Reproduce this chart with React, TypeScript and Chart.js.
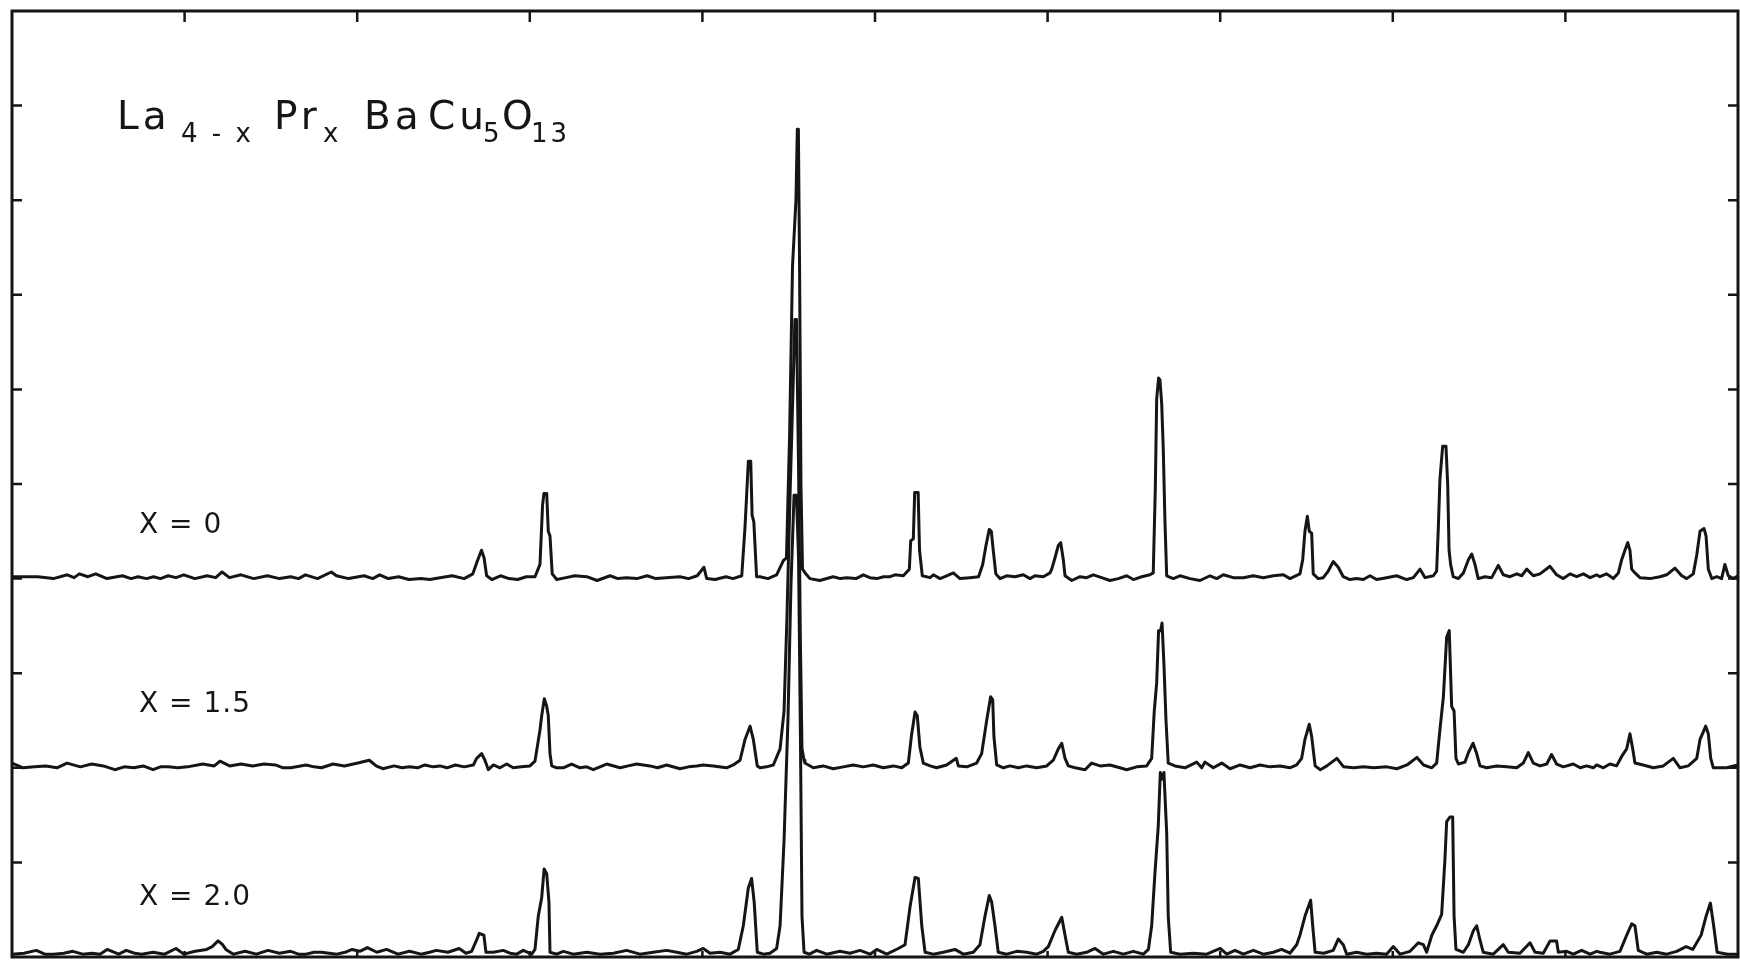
import React, { useEffect, useRef } from 'react';
import { Chart, registerables } from 'chart.js';

Chart.register(...registerables);

// Powder diffraction scans of La(4-x)Pr(x)BaCu5O13.
// Each point: [scan position (0-100 across the frame), intensity above the trace's own baseline].
const TRACE_X0: [number, number][] = [
  [0, 0.02], [1.5, 0.02], [2.4, 0.0], [3.2, 0.04], [3.6, 0.01], [3.9, 0.05], [4.4, 0.02], [4.85, 0.05], [5.5, 0.0],
  [6.4, 0.03], [6.9, 0.0], [7.3, 0.02], [7.8, 0.0], [8.2, 0.02], [8.6, 0.0], [9.05, 0.03], [9.5, 0.01], [9.95, 0.04],
  [10.6, 0.0], [11.3, 0.03], [11.8, 0.01], [12.17, 0.07], [12.6, 0.01], [13.27, 0.04], [14.0, 0.0], [14.8, 0.03],
  [15.5, 0.0], [16.15, 0.02], [16.6, 0.0], [17.0, 0.04], [17.7, 0.0], [18.5, 0.07], [18.8, 0.03], [19.5, 0.0],
  [20.4, 0.03], [20.9, 0.0], [21.3, 0.04], [21.8, 0.0], [22.4, 0.02], [23.0, -0.01], [23.7, 0.0], [24.2, -0.01],
  [24.8, 0.01], [25.5, 0.03], [26.2, 0.0], [26.7, 0.05], [26.95, 0.18], [27.2, 0.3], [27.35, 0.22], [27.5, 0.03],
  [27.8, -0.01], [28.3, 0.03], [28.8, 0.0], [29.3, -0.01], [29.8, 0.02], [30.3, 0.02], [30.59, 0.15], [30.74, 0.78],
  [30.82, 0.9], [30.98, 0.9], [31.07, 0.5], [31.17, 0.45], [31.3, 0.05], [31.56, -0.01], [32.1, 0.01], [32.6, 0.03],
  [33.3, 0.02], [33.9, -0.02], [34.65, 0.03], [35.1, 0.0], [35.6, 0.01], [36.2, 0.0], [36.8, 0.03], [37.3, 0.0],
  [37.9, 0.01], [38.7, 0.02], [39.2, 0.0], [39.7, 0.03], [40.09, 0.12], [40.25, 0.0], [40.73, -0.01], [41.37, 0.02],
  [41.77, 0.0], [42.28, 0.03], [42.47, 0.55], [42.56, 0.87], [42.66, 1.24], [42.8, 1.24], [42.88, 0.67], [42.98, 0.6],
  [43.14, 0.02], [43.34, 0.02], [43.8, 0.0], [44.3, 0.04], [44.69, 0.19], [44.87, 0.22], [45.05, 1.5], [45.22, 3.3],
  [45.42, 4.0], [45.5, 4.75], [45.56, 4.75], [45.63, 3.3], [45.71, 1.0], [45.8, 0.1], [45.95, 0.06], [46.23, 0.0],
  [46.8, -0.02], [47.57, 0.02], [48.0, 0.0], [48.36, 0.01], [48.9, 0.0], [49.32, 0.04], [49.7, 0.01], [50.1, 0.0],
  [50.5, 0.02], [50.87, 0.02], [51.16, 0.04], [51.64, 0.03], [51.99, 0.1], [52.07, 0.4], [52.22, 0.42], [52.3, 0.91],
  [52.5, 0.91], [52.58, 0.3], [52.74, 0.03], [53.19, 0.01], [53.38, 0.04], [53.77, 0.0], [54.15, 0.03], [54.54, 0.06],
  [54.92, 0.0], [55.5, 0.01], [56.0, 0.02], [56.24, 0.15], [56.43, 0.35], [56.62, 0.52], [56.74, 0.5], [56.85, 0.3],
  [57.0, 0.05], [57.24, 0.0], [57.63, 0.03], [58.11, 0.02], [58.59, 0.04], [58.98, 0.0], [59.27, 0.03], [59.75, 0.02],
  [60.14, 0.06], [60.24, 0.1], [60.43, 0.22], [60.62, 0.35], [60.76, 0.38], [60.91, 0.2], [61.01, 0.03], [61.4, -0.02],
  [61.88, 0.02], [62.26, 0.01], [62.65, 0.04], [63.13, 0.01], [63.61, -0.02], [64.1, 0.0], [64.58, 0.03], [64.97, -0.01],
  [65.45, 0.02], [65.93, 0.04], [66.12, 0.06], [66.24, 0.95], [66.32, 1.9], [66.43, 2.12], [66.51, 2.1], [66.61, 1.85],
  [66.7, 1.38], [66.8, 0.6], [66.9, 0.03], [67.28, 0.0], [67.67, 0.03], [68.25, 0.0], [68.83, -0.02], [69.41, 0.03],
  [69.8, 0.0], [70.18, 0.04], [70.76, 0.01], [71.34, 0.01], [71.92, 0.03], [72.5, 0.01], [73.08, 0.03], [73.66, 0.04],
  [74.04, 0.0], [74.62, 0.05], [74.78, 0.2], [74.91, 0.5], [75.05, 0.66], [75.16, 0.5], [75.3, 0.48], [75.39, 0.05],
  [75.68, 0.0], [75.97, 0.01], [76.26, 0.08], [76.55, 0.18], [76.84, 0.12], [77.13, 0.02], [77.52, -0.01], [77.9, 0.0],
  [78.29, -0.01], [78.68, 0.03], [79.06, -0.01], [79.64, 0.01], [80.22, 0.03], [80.8, -0.01], [81.19, 0.01], [81.58, 0.1],
  [81.87, 0.01], [82.35, 0.03], [82.54, 0.08], [82.64, 0.55], [82.73, 1.05], [82.89, 1.4], [83.08, 1.4], [83.18, 1.0],
  [83.26, 0.3], [83.35, 0.15], [83.5, 0.02], [83.8, 0.0], [84.09, 0.06], [84.38, 0.2], [84.57, 0.26], [84.76, 0.15],
  [84.95, 0.0], [85.34, 0.02], [85.73, 0.01], [86.11, 0.14], [86.4, 0.04], [86.79, 0.02], [87.18, 0.05], [87.47, 0.03],
  [87.76, 0.1], [88.14, 0.03], [88.53, 0.05], [89.11, 0.13], [89.49, 0.04], [89.88, 0.0], [90.27, 0.05], [90.65, 0.02],
  [91.04, 0.05], [91.43, 0.01], [91.81, 0.04], [92.0, 0.02], [92.39, 0.05], [92.78, 0.0], [93.07, 0.06], [93.26, 0.2],
  [93.45, 0.3], [93.61, 0.38], [93.74, 0.3], [93.84, 0.1], [94.03, 0.06], [94.32, 0.01], [94.9, 0.0], [95.48, 0.02],
  [95.87, 0.04], [96.35, 0.11], [96.74, 0.03], [97.03, 0.0], [97.41, 0.05], [97.61, 0.25], [97.8, 0.5], [98.03, 0.53],
  [98.15, 0.45], [98.28, 0.1], [98.48, 0.0], [98.77, 0.02], [99.05, 0.0], [99.24, 0.15], [99.44, 0.03], [99.73, 0.0],
  [100, 0.03],
];

const TRACE_X15: [number, number][] = [
  [0, 0.05], [0.64, 0.0], [1.3, 0.01], [1.97, 0.02], [2.6, 0.0], [3.19, 0.05], [3.96, 0.01], [4.62, 0.04], [5.29, 0.02],
  [5.96, -0.02], [6.5, 0.01], [7.07, 0.0], [7.6, 0.02], [8.17, -0.02], [8.6, 0.01], [9.06, 0.01], [9.6, 0.0], [10.17, 0.01],
  [11.05, 0.04], [11.72, 0.02], [12.05, 0.07], [12.61, 0.02], [13.27, 0.04], [13.94, 0.02], [14.6, 0.04], [15.27, 0.03],
  [15.7, 0.0], [16.15, 0.0], [17.04, 0.03], [17.5, 0.01], [17.93, 0.0], [18.6, 0.04], [19.26, 0.02], [20.04, 0.05],
  [20.7, 0.08], [21.1, 0.02], [21.48, -0.01], [22.14, 0.02], [22.6, 0.0], [23.03, 0.01], [23.5, 0.0], [23.92, 0.03],
  [24.4, 0.01], [24.8, 0.02], [25.2, 0.0], [25.69, 0.03], [26.2, 0.01], [26.73, 0.03], [26.92, 0.1], [27.21, 0.15],
  [27.4, 0.08], [27.6, -0.02], [27.89, 0.03], [28.27, 0.0], [28.66, 0.04], [29.04, 0.0], [29.5, 0.01], [30.01, 0.02],
  [30.3, 0.07], [30.59, 0.4], [30.69, 0.55], [30.84, 0.73], [30.98, 0.65], [31.07, 0.55], [31.17, 0.15], [31.27, 0.02],
  [31.56, 0.0], [31.94, 0.0], [32.42, 0.04], [32.91, 0.0], [33.3, 0.01], [33.68, -0.02], [34.45, 0.04], [35.23, 0.0],
  [35.7, 0.02], [36.19, 0.04], [36.96, 0.02], [37.4, 0.0], [37.93, 0.03], [38.7, -0.01], [39.2, 0.01], [39.67, 0.02],
  [40.05, 0.03], [40.63, 0.02], [41.4, 0.0], [41.79, 0.03], [42.18, 0.08], [42.47, 0.3], [42.76, 0.44], [42.95, 0.3],
  [43.18, 0.02], [43.34, 0.0], [43.72, 0.01], [44.11, 0.03], [44.5, 0.2], [44.73, 0.6], [44.9, 1.6], [45.08, 2.9],
  [45.25, 4.0], [45.36, 4.74], [45.45, 4.74], [45.57, 3.2], [45.68, 1.3], [45.77, 0.2], [45.89, 0.08], [45.94, 0.05],
  [46.42, 0.0], [47.0, 0.02], [47.58, -0.01], [48.16, 0.01], [48.74, 0.03], [49.32, 0.01], [49.9, 0.03], [50.48, 0.0],
  [51.06, 0.02], [51.55, 0.0], [51.93, 0.05], [52.12, 0.35], [52.32, 0.59], [52.45, 0.55], [52.6, 0.22], [52.8, 0.05],
  [53.19, 0.02], [53.57, 0.0], [54.15, 0.03], [54.71, 0.1], [54.83, 0.02], [55.32, 0.01], [55.89, 0.05], [56.18, 0.15],
  [56.47, 0.5], [56.7, 0.75], [56.82, 0.72], [56.89, 0.33], [57.05, 0.03], [57.44, 0.0], [57.82, 0.02], [58.3, 0.0],
  [58.79, 0.02], [59.37, 0.0], [59.95, 0.02], [60.33, 0.08], [60.62, 0.2], [60.82, 0.26], [61.01, 0.1], [61.2, 0.02],
  [61.59, 0.0], [62.17, -0.02], [62.55, 0.05], [63.04, 0.02], [63.61, 0.03], [64.19, 0.0], [64.58, -0.02], [65.16, 0.01],
  [65.74, 0.02], [66.03, 0.1], [66.18, 0.6], [66.32, 0.9], [66.43, 1.45], [66.55, 1.45], [66.63, 1.53], [66.74, 1.1],
  [66.86, 0.5], [66.99, 0.05], [67.38, 0.02], [67.96, 0.0], [68.64, 0.06], [68.93, 0.0], [69.12, 0.06], [69.6, 0.0],
  [70.09, 0.05], [70.57, -0.01], [71.15, 0.03], [71.73, 0.0], [72.31, 0.03], [72.89, 0.01], [73.47, 0.02], [74.04, 0.0],
  [74.43, 0.03], [74.72, 0.1], [74.91, 0.3], [75.16, 0.46], [75.3, 0.33], [75.5, 0.02], [75.8, -0.02], [76.18, 0.02],
  [76.76, 0.1], [77.15, 0.01], [77.73, 0.0], [78.31, 0.01], [78.89, 0.0], [79.66, 0.01], [80.24, -0.01], [80.82, 0.03],
  [81.4, 0.11], [81.78, 0.03], [82.26, 0.0], [82.54, 0.05], [82.73, 0.4], [82.93, 0.75], [83.12, 1.38], [83.27, 1.45],
  [83.41, 0.65], [83.55, 0.6], [83.66, 0.1], [83.8, 0.04], [84.18, 0.06], [84.38, 0.16], [84.65, 0.26], [84.86, 0.15],
  [85.05, 0.02], [85.44, 0.0], [86.02, 0.02], [86.6, 0.01], [87.18, 0.0], [87.56, 0.05], [87.85, 0.16], [88.14, 0.05],
  [88.53, 0.02], [88.92, 0.04], [89.2, 0.14], [89.49, 0.04], [89.88, 0.01], [90.46, 0.04], [90.85, 0.0], [91.23, 0.02],
  [91.62, 0.0], [91.81, 0.03], [92.2, 0.0], [92.58, 0.04], [92.97, 0.02], [93.26, 0.12], [93.55, 0.2], [93.74, 0.36],
  [93.9, 0.2], [94.03, 0.05], [94.51, 0.03], [95.09, 0.0], [95.67, 0.02], [96.25, 0.1], [96.64, 0.0], [97.12, 0.02],
  [97.61, 0.1], [97.8, 0.3], [97.99, 0.38], [98.13, 0.44], [98.28, 0.36], [98.42, 0.1], [98.57, 0.0], [99.34, 0.0],
  [100, 0.03],
];

const TRACE_X20: [number, number][] = [
  [0, 0.0], [0.7, 0.01], [1.41, 0.04], [1.9, 0.0], [2.41, 0.0], [3.0, 0.01], [3.52, 0.03], [4.1, 0.0], [4.63, 0.01],
  [5.1, 0.0], [5.51, 0.05], [6.18, 0.0], [6.62, 0.04], [7.1, 0.01], [7.51, 0.0], [8.17, 0.02], [8.84, 0.0], [9.5, 0.06],
  [9.95, 0.0], [10.61, 0.03], [11.28, 0.05], [11.6, 0.08], [11.94, 0.14], [12.2, 0.1], [12.39, 0.05], [12.83, 0.0],
  [13.5, 0.03], [14.16, 0.0], [14.83, 0.04], [15.49, 0.01], [16.15, 0.03], [16.6, 0.0], [17.04, 0.0], [17.5, 0.02],
  [17.93, 0.02], [18.82, 0.0], [19.3, 0.02], [19.7, 0.05], [20.15, 0.03], [20.59, 0.07], [21.14, 0.02], [21.7, 0.05],
  [22.36, 0.0], [23.03, 0.03], [23.7, 0.0], [24.2, 0.02], [24.58, 0.04], [25.25, 0.02], [25.91, 0.06], [26.3, 0.01],
  [26.63, 0.03], [26.92, 0.15], [27.07, 0.22], [27.34, 0.2], [27.46, 0.02], [27.89, 0.02], [28.46, 0.04], [28.85, 0.01],
  [29.24, 0.0], [29.62, 0.04], [30.11, 0.0], [30.3, 0.05], [30.49, 0.4], [30.69, 0.6], [30.83, 0.9], [30.98, 0.85],
  [31.11, 0.55], [31.17, 0.02], [31.56, 0.0], [31.94, 0.03], [32.52, 0.0], [33.3, 0.02], [34.07, 0.0], [34.84, 0.01],
  [35.61, 0.04], [36.38, 0.0], [37.15, 0.02], [37.93, 0.04], [38.51, 0.02], [39.09, 0.0], [39.67, 0.03], [40.05, 0.06],
  [40.44, 0.01], [41.02, 0.02], [41.6, 0.0], [42.08, 0.05], [42.37, 0.3], [42.66, 0.7], [42.85, 0.8], [43.0, 0.55],
  [43.18, 0.02], [43.53, 0.0], [43.92, 0.01], [44.3, 0.06], [44.5, 0.3], [44.73, 1.2], [44.96, 2.5], [45.13, 3.9],
  [45.31, 4.85], [45.45, 4.85], [45.57, 4.2], [45.68, 2.3], [45.77, 0.4], [45.89, 0.02], [46.2, 0.0], [46.62, 0.04],
  [47.2, 0.0], [47.97, 0.03], [48.55, 0.01], [49.13, 0.04], [49.71, 0.0], [50.1, 0.05], [50.68, 0.0], [51.35, 0.06],
  [51.74, 0.1], [52.03, 0.5], [52.32, 0.81], [52.51, 0.8], [52.71, 0.3], [52.9, 0.02], [53.38, 0.0], [53.96, 0.02],
  [54.63, 0.05], [55.12, 0.0], [55.7, 0.02], [56.08, 0.1], [56.37, 0.4], [56.62, 0.62], [56.76, 0.55], [56.95, 0.3],
  [57.14, 0.02], [57.63, 0.0], [58.21, 0.03], [58.79, 0.02], [59.37, 0.0], [59.75, 0.03], [60.04, 0.08], [60.43, 0.25],
  [60.82, 0.39], [61.01, 0.2], [61.2, 0.02], [61.69, 0.0], [62.26, 0.02], [62.75, 0.06], [63.23, 0.0], [63.81, 0.03],
  [64.39, 0.0], [64.97, 0.03], [65.55, 0.0], [65.84, 0.05], [66.03, 0.3], [66.22, 0.86], [66.41, 1.35], [66.53, 1.92],
  [66.63, 1.85], [66.74, 1.92], [66.9, 1.28], [66.99, 0.4], [67.13, 0.02], [67.67, 0.0], [68.44, 0.01], [69.22, 0.0],
  [70.0, 0.06], [70.38, 0.0], [70.86, 0.04], [71.34, 0.0], [71.92, 0.04], [72.5, 0.0], [73.08, 0.02], [73.56, 0.05],
  [74.04, 0.01], [74.43, 0.1], [74.62, 0.2], [74.91, 0.4], [75.24, 0.57], [75.36, 0.3], [75.5, 0.02], [76.0, 0.01],
  [76.55, 0.04], [76.84, 0.16], [77.13, 0.1], [77.33, 0.0], [77.9, 0.02], [78.49, 0.0], [79.06, 0.01], [79.64, 0.0],
  [80.03, 0.08], [80.42, 0.0], [81.0, 0.03], [81.48, 0.12], [81.77, 0.1], [81.96, 0.02], [82.26, 0.2], [82.54, 0.3],
  [82.83, 0.42], [83.02, 1.0], [83.12, 1.4], [83.31, 1.45], [83.47, 1.45], [83.55, 0.4], [83.66, 0.05], [84.09, 0.02],
  [84.38, 0.1], [84.67, 0.25], [84.86, 0.3], [85.05, 0.15], [85.24, 0.02], [85.82, 0.0], [86.4, 0.1], [86.69, 0.02],
  [87.37, 0.01], [87.95, 0.12], [88.24, 0.02], [88.72, 0.01], [89.11, 0.14], [89.49, 0.14], [89.59, 0.02], [90.07, 0.03],
  [90.46, 0.0], [90.94, 0.04], [91.43, 0.0], [91.81, 0.03], [92.0, 0.02], [92.58, 0.0], [93.16, 0.03], [93.55, 0.2],
  [93.84, 0.32], [94.03, 0.3], [94.22, 0.04], [94.71, 0.0], [95.29, 0.02], [95.87, 0.0], [96.45, 0.03], [96.99, 0.08],
  [97.38, 0.05], [97.86, 0.2], [98.15, 0.4], [98.4, 0.54], [98.59, 0.3], [98.79, 0.02], [99.4, 0.0], [100, 0.0],
];

// vertical offsets of the three stacked scans
const BASELINES = [4.0, 2.0, 0.03];
const SERIES_LABELS = ['X = 0', 'X = 1.5', 'X = 2.0'];

// frame tick positions
const X_TICKS = [10, 20, 30, 40, 50, 60, 70, 80, 90];
const Y_TICKS = [1, 2, 3, 4, 5, 6, 7, 8, 9];

// formula La(4-x) Pr(x) Ba Cu5 O13, written as [text, isSubscript]
const FORMULA: [string, boolean][] = [
  ['La', false], ['4 - x', true], ['Pr', false], ['x', true], ['Ba', false],
  ['Cu', false], ['5', true], ['O', false], ['13', true],
];

const INK = '#151515';
const W = 1740;
const H = 961;
const FONT = '"DejaVu Sans", "Liberation Sans", sans-serif';

// lettering layout (canvas pixels)
const FORMULA_X = [117, 181, 274, 323, 364, 428, 483, 502, 531];
const FORMULA_BASE = 129;
const FORMULA_SUB_BASE = 142;
const LABEL_X = 139;
const LABEL_BASE = [533, 712, 905];

const framePlugin = {
  id: 'frameAndLettering',
  afterDatasetsDraw(chart: any) {
    const { ctx, chartArea, scales } = chart;
    const { left, top, right, bottom } = chartArea;
    const xs = scales.x;
    const ys = scales.y;
    ctx.save();
    ctx.strokeStyle = INK;
    ctx.lineCap = 'butt';
    ctx.lineWidth = 3;
    ctx.strokeRect(left, top, right - left, bottom - top);

    ctx.lineWidth = 2.5;
    ctx.beginPath();
    X_TICKS.forEach((v) => {
      const px = xs.getPixelForValue(v);
      ctx.moveTo(px, top);
      ctx.lineTo(px, top + 11);
      ctx.moveTo(px, bottom);
      ctx.lineTo(px, bottom - 6);
    });
    Y_TICKS.forEach((v) => {
      const py = ys.getPixelForValue(v);
      ctx.moveTo(left, py);
      ctx.lineTo(left + 10, py);
      ctx.moveTo(right, py);
      ctx.lineTo(right - 10, py);
    });
    ctx.stroke();

    ctx.fillStyle = INK;
    ctx.textBaseline = 'alphabetic';
    ctx.textAlign = 'left';
    FORMULA.forEach(([text, sub], i) => {
      ctx.font = sub ? `26px ${FONT}` : `39px ${FONT}`;
      (ctx as any).letterSpacing = sub ? '3px' : '4px';
      ctx.fillText(text, FORMULA_X[i], sub ? FORMULA_SUB_BASE : FORMULA_BASE);
    });

    ctx.font = `28px ${FONT}`;
    (ctx as any).letterSpacing = '1px';
    SERIES_LABELS.forEach((label, i) => {
      ctx.fillText(label, LABEL_X, LABEL_BASE[i]);
    });
    (ctx as any).letterSpacing = '0px';
    ctx.restore();
  },
};

export default function App() {
  const canvasRef = useRef<HTMLCanvasElement | null>(null);

  useEffect(() => {
    document.body.style.margin = '0';
    const canvas = canvasRef.current;
    if (!canvas) return;
    const traces = [TRACE_X0, TRACE_X15, TRACE_X20];
    const chart = new Chart(canvas, {
      type: 'line',
      data: {
        datasets: traces.map((trace, i) => ({
          label: SERIES_LABELS[i],
          data: trace.map(([x, y]) => ({ x, y: y + BASELINES[i] })),
          borderColor: INK,
          backgroundColor: INK,
          borderWidth: 3,
          pointRadius: 0,
          fill: false,
          tension: 0,
          borderJoinStyle: 'round' as const,
          borderCapStyle: 'round' as const,
        })),
      },
      options: {
        responsive: false,
        animation: false,
        devicePixelRatio: 1,
        layout: { padding: { left: 12, top: 11, right: 2, bottom: 4 } },
        plugins: {
          legend: { display: false },
          tooltip: { enabled: false },
          title: { display: false },
        },
        scales: {
          x: { type: 'linear', min: 0, max: 100, display: false },
          y: { type: 'linear', min: 0, max: 10, display: false },
        },
      },
      plugins: [framePlugin],
    });
    return () => chart.destroy();
  }, []);

  return (
    <div style={{ width: W, height: H, background: '#fff' }}>
      <canvas ref={canvasRef} width={W} height={H} style={{ display: 'block', width: W, height: H }} />
    </div>
  );
}
